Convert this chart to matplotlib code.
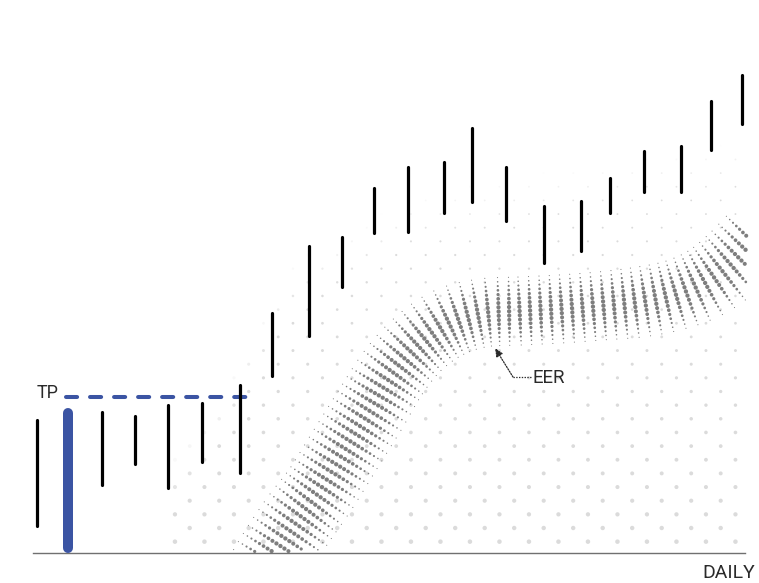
import numpy as np
import matplotlib
matplotlib.use("Agg")
import matplotlib.pyplot as plt

# ---------------- data ----------------
day_pos = [37, 68, 102, 135, 168, 202, 240, 272, 309, 342, 374, 408,
           444, 472, 506, 544, 581, 610, 644, 681, 711, 742]
highs = [133, 140, 141, 137, 148, 150, 168, 240, 307, 316, 365, 386,
         391, 425, 386, 347, 352, 375, 402, 407, 452, 478]
lows = [27, 5, 68, 89, 65, 91, 80, 177, 217, 266, 320, 321,
        340, 351, 332, 290, 302, 340, 361, 361, 403, 429]
highlight_idx = 1
tp_level = 156
tp_start, tp_end = 66, 255

# EER band (centre line knots, half widths, rib gaps)
band_x = [248, 276, 298, 320, 345, 370, 393, 418, 448, 482, 520, 560,
          600, 640, 675, 705, 730, 755]
band_y = [-47, 0, 33, 63, 103, 143, 180, 209, 230, 240, 242, 244,
          247, 251, 258, 270, 288, 313]
band_hw = [38, 38, 38, 37, 37, 37, 36, 35, 35, 34, 34, 34,
           34, 35, 35, 36, 37, 37]
band_gap = [9, 9, 9, 9, 9, 9, 9, 9.5, 10, 10.5, 10.5, 10.5,
            10.5, 10.5, 10.5, 10.5, 10.5, 10.5]

# background dot-grid fade boundary
fade_x = [150, 172, 215, 290, 420, 560, 700, 760]
fade_y = [-47, 98, 148, 291, 361, 385, 405, 418]

eer_tip = (495, 205)
eer_corner = (513, 176)
eer_text = (533, 170)

# ---------------- figure ----------------
W, H = 759, 583
fig = plt.figure(figsize=(W / 100, H / 100), dpi=100)
ax = fig.add_axes([0, 0, 1, 1])
ax.set_xlim(0, W)
ax.set_ylim(553 - H, 553)
ax.axis("off")

FONT = ["Roboto", "Liberation Sans", "DejaVu Sans"]
TXT = "#2a2a2a"

# background dot grid
gx0, gy0, gdx, gdy = 366.7, 325.3, 29.5, 13.65
pts_x, pts_y, pts_a, pts_s = [], [], [], []
for k in range(-23, 12):
    yy = gy0 + k * gdy
    off = 0.5 * (k % 2)
    for j in range(-12, 14):
        xx = gx0 + (j + off) * gdx
        if xx < 150 or xx > 748:
            continue
        b = np.interp(xx, fade_x, fade_y)
        depth = b - yy
        a = np.clip(depth / 50.0, 0, 1)
        if a <= 0.02:
            continue
        d = np.clip(4.6 - 2.6 * (yy / 320.0), 1.8, 4.6)
        pts_x.append(xx); pts_y.append(yy); pts_a.append(a)
        pts_s.append((d * 0.72) ** 2)
cols = np.zeros((len(pts_x), 4))
cols[:, :3] = 0.86
cols[:, 3] = pts_a
ax.scatter(pts_x, pts_y, s=pts_s, c=cols, linewidths=0, zorder=1)

# EER band drawn as dotted ribs
def catmull(px, py, n=30):
    P = np.column_stack([px, py]).astype(float)
    P = np.vstack([2 * P[0] - P[1], P, 2 * P[-1] - P[-2]])
    out = []
    for i in range(1, len(P) - 2):
        p0, p1, p2, p3 = P[i - 1], P[i], P[i + 1], P[i + 2]
        for t in np.linspace(0, 1, n, endpoint=False):
            t2, t3 = t * t, t * t * t
            out.append(0.5 * ((2 * p1) + (-p0 + p2) * t +
                              (2 * p0 - 5 * p1 + 4 * p2 - p3) * t2 +
                              (-p0 + 3 * p1 - 3 * p2 + p3) * t3))
    out.append(P[-2])
    return np.array(out)

curve = catmull(band_x, band_y)
seg = np.hypot(np.diff(curve[:, 0]), np.diff(curve[:, 1]))
arc = np.concatenate([[0], np.cumsum(seg)])
knot_arc = []
for kx, ky in zip(band_x, band_y):
    knot_arc.append(arc[np.argmin(np.hypot(curve[:, 0] - kx, curve[:, 1] - ky))])
tang = np.gradient(curve, axis=0)
tang /= np.hypot(tang[:, 0], tang[:, 1])[:, None]
norm = np.column_stack([-tang[:, 1], tang[:, 0]])

bx, by, bs = [], [], []
s = 0.0
while s <= arc[-1]:
    cx = np.interp(s, arc, curve[:, 0]); cy = np.interp(s, arc, curve[:, 1])
    nx = np.interp(s, arc, norm[:, 0]); ny = np.interp(s, arc, norm[:, 1])
    nn = np.hypot(nx, ny); nx /= nn; ny /= nn
    hw = np.interp(s, knot_arc, band_hw)
    ndots = 17
    for o in np.linspace(-hw, hw, ndots):
        x = cx + nx * o; y = cy + ny * o
        if y < 1.5 or x > 747:
            continue
        r = abs(o) / hw
        prof = np.cos(r * np.pi / 2) ** 1.2
        d = 1.1 + 3.2 * prof
        bx.append(x); by.append(y); bs.append((d * 0.72) ** 2)
    s += np.interp(s, knot_arc, band_gap)
ax.scatter(bx, by, s=bs, color="#7e7e7e", linewidths=0, zorder=2)

# baseline
ax.plot([33, 745], [0, 0], color="#707070", lw=1.0, zorder=3)

# TP dashed line
plt.rcParams["lines.scale_dashes"] = False
ax.plot([tp_start, tp_end], [tp_level, tp_level], color="#3b54a3", lw=2.9,
        dashes=(8.0, 9.3), dash_capstyle="round", zorder=4)
ax.text(37, tp_level - 1, "TP", fontsize=13, family=FONT,
        color=TXT, ha="left", va="baseline", zorder=6)

# range bars
for i, (x, hi, lo) in enumerate(zip(day_pos, highs, lows)):
    if i == highlight_idx:
        ax.plot([x, x], [lo, hi], color="#3b54a3", lw=7.2,
                solid_capstyle="round", zorder=5)
    else:
        ax.plot([x, x], [lo, hi], color="#000000", lw=2.3,
                solid_capstyle="round", zorder=5)

# EER annotation
ax.plot([eer_text[0] - 2, eer_corner[0]], [eer_corner[1], eer_corner[1]],
        color=TXT, lw=0.9, ls=(0, (1, 1)), zorder=6)
ax.annotate("", xy=eer_tip, xytext=eer_corner,
            arrowprops=dict(arrowstyle="-|>,head_length=0.5,head_width=0.22",
                            color=TXT, lw=0.9, ls=(0, (1, 1)),
                            shrinkA=0, shrinkB=0), zorder=6)
ax.text(eer_text[0], eer_text[1], "EER", fontsize=13.5, family=FONT,
        color=TXT, ha="left", va="baseline", zorder=6)

# axis label
ax.text(755, -25, "DAILY", fontsize=14, family=FONT,
        color=TXT, ha="right", va="baseline", zorder=6)

fig.savefig("out.png", dpi=100, facecolor="white")
